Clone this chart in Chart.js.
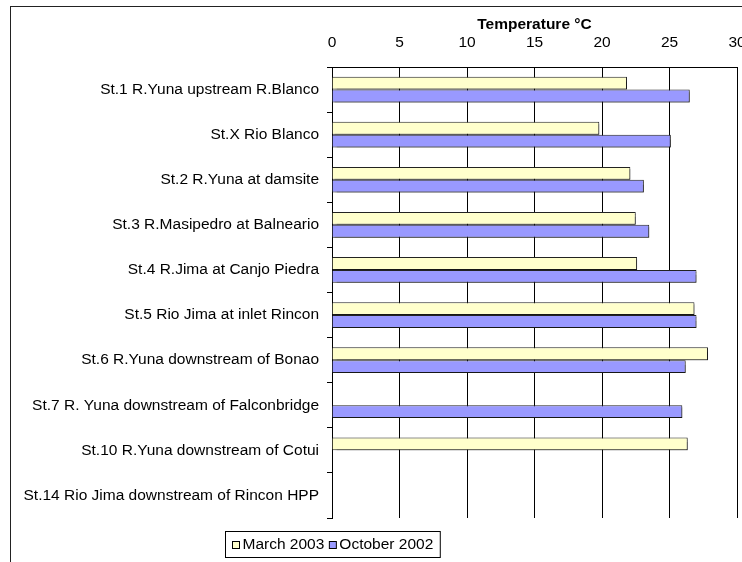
<!DOCTYPE html>
<html lang="en">
<head>
    <meta charset="UTF-8">
    <title>Temperature</title>
    <script src="https://cdn.jsdelivr.net/npm/chart.js"></script>
    <style>
        body {
            margin: 0;
            background-color: #ffffff;
            overflow: hidden;
        }
        .frame {
            position: absolute;
            left: 10px;
            top: 6px;
            width: 800px;
            height: 600px;
            border: 1.5px solid #222;
            pointer-events: none;
        }
        #tempChart {
            position: absolute;
            left: 0;
            top: 0;
        }
    </style>
</head>
<body>
    <canvas id="tempChart" width="742" height="562"></canvas>
    <div class="frame"></div>

    <script>
        // Stations (top to bottom)
        const stations = [
            'St.1 R.Yuna upstream R.Blanco',
            'St.X Rio Blanco',
            'St.2 R.Yuna at damsite',
            'St.3 R.Masipedro at Balneario',
            'St.4 R.Jima at Canjo Piedra',
            'St.5 Rio Jima at inlet Rincon',
            'St.6 R.Yuna downstream of Bonao',
            'St.7 R. Yuna downstream of Falconbridge',
            'St.10 R.Yuna downstream of Cotui',
            'St.14 Rio Jima downstream of Rincon HPP'
        ];
        const march2003 = [21.85, 19.8, 22.1, 22.5, 22.6, 26.85, 27.85, null, 26.35, null];
        const october2002 = [26.5, 25.1, 23.1, 23.5, 27.0, 27.0, 26.2, 25.95, null, null];
        const tempTicks = [0, 5, 10, 15, 20, 25, 30];

        const fontFamily = 'Arial, "Liberation Sans", sans-serif';
        Chart.defaults.font.family = fontFamily;
        Chart.defaults.font.size = 15.5;
        Chart.defaults.color = '#000';

        // Excel style drop shadow on the bars
        const barShadow = {
            id: 'barShadow',
            beforeDatasetsDraw(chart) {
                const ctx = chart.ctx;
                ctx.save();
                ctx.shadowColor = 'rgba(0, 0, 0, 0.35)';
                ctx.shadowOffsetX = 2;
                ctx.shadowOffsetY = 2;
                ctx.shadowBlur = 1;
            },
            afterDatasetsDraw(chart) {
                chart.ctx.restore();
            }
        };

        // Boxed legend under the plot
        const boxLegend = {
            id: 'boxLegend',
            afterDraw(chart) {
                const ctx = chart.ctx;
                const sw = 7, gap = 3, itemGap = 5, padX = 7;
                ctx.save();
                ctx.font = '15.5px ' + fontFamily;
                const items = chart.data.datasets.map(ds => ({
                    text: ds.label, fill: ds.backgroundColor, w: ctx.measureText(ds.label).width
                }));
                let total = padX * 2;
                items.forEach((it, i) => { total += sw + gap + it.w + (i ? itemGap : 0); });
                const left = Math.round(332 - total / 2) + 0.5;
                const top = 531.5, h = 26;
                ctx.strokeStyle = '#000';
                ctx.lineWidth = 1;
                ctx.strokeRect(left, top, total, h);
                let x = left + padX;
                const mid = top + h / 2;
                items.forEach((it, i) => {
                    if (i) x += itemGap;
                    ctx.fillStyle = it.fill;
                    ctx.fillRect(x, mid - 3, sw, sw);
                    ctx.strokeRect(x, mid - 3, sw, sw);
                    x += sw + gap;
                    ctx.fillStyle = '#000';
                    ctx.textBaseline = 'middle';
                    ctx.fillText(it.text, x, mid);
                    x += it.w;
                });
                ctx.restore();
            }
        };

        const tempChart = new Chart(document.getElementById('tempChart').getContext('2d'), {
            type: 'bar',
            data: {
                labels: stations,
                datasets: [{
                    label: 'March 2003',
                    data: march2003,
                    backgroundColor: '#FFFFCC',
                    borderColor: '#222',
                    borderWidth: 1
                }, {
                    label: 'October 2002',
                    data: october2002,
                    backgroundColor: '#9999FF',
                    borderColor: '#222',
                    borderWidth: 1
                }]
            },
            options: {
                indexAxis: 'y',
                responsive: false,
                animation: false,
                datasets: {
                    bar: {
                        categoryPercentage: 0.57,
                        barPercentage: 1.0
                    }
                },
                layout: {
                    padding: { left: 0, top: 0, right: 5, bottom: 44 }
                },
                scales: {
                    x: {
                        position: 'top',
                        min: 0,
                        max: 30,
                        afterBuildTicks: (scale) => {
                            scale.ticks = tempTicks.map(v => ({ value: v }));
                        },
                        afterFit: (scale) => {
                            scale.height = 67;
                            scale.paddingLeft = 0;
                            scale.paddingRight = 0;
                        },
                        grid: {
                            color: '#000',
                            drawTicks: false
                        },
                        border: {
                            display: true,
                            color: '#000'
                        },
                        ticks: {
                            padding: 15,
                            maxRotation: 0
                        },
                        title: {
                            display: true,
                            text: 'Temperature °C',
                            font: { weight: 'bold', size: 15.5 },
                            padding: { top: 15, bottom: 0 }
                        }
                    },
                    y: {
                        afterFit: (scale) => {
                            scale.width = 332;
                            scale.paddingTop = 0;
                            scale.paddingBottom = 0;
                        },
                        grid: {
                            drawOnChartArea: false,
                            drawTicks: true,
                            tickLength: 5,
                            color: '#000'
                        },
                        border: {
                            display: true,
                            color: '#000'
                        },
                        ticks: {
                            padding: 8,
                            autoSkip: false
                        }
                    }
                },
                plugins: {
                    legend: { display: false },
                    tooltip: { enabled: false }
                }
            },
            plugins: [barShadow, boxLegend]
        });
    </script>
</body>
</html>
